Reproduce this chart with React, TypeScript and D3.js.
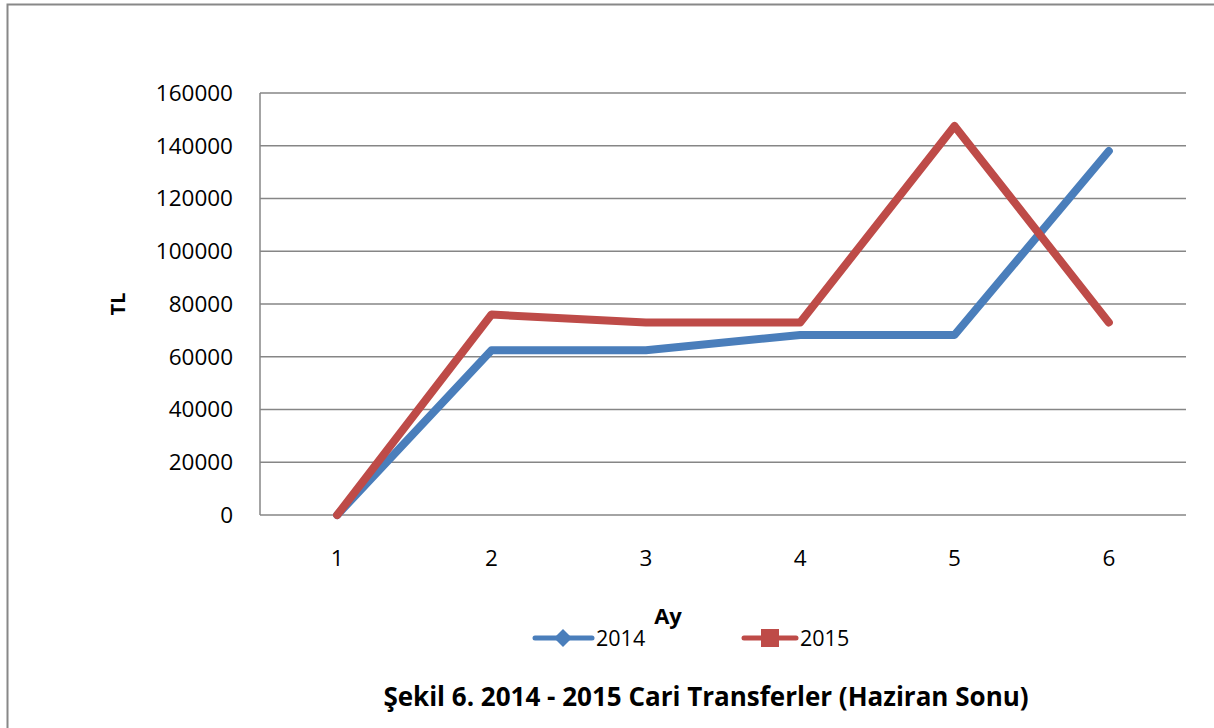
import React from "react";
import * as d3 from "d3";

const categories = ["1", "2", "3", "4", "5", "6"];
const values2014 = [0, 62500, 62500, 68250, 68250, 138000];
const values2015 = [0, 76000, 73000, 73000, 147500, 73000];
const yTicks = [0, 20000, 40000, 60000, 80000, 100000, 120000, 140000, 160000];
const seriesNames = ["2014", "2015"];
const colors = ["#4A7EBB", "#BE4B48"];

const W = 1214;
const H = 728;
const plot = { left: 260, right: 1186, top: 93, bottom: 515 };
const FONT = "'Open Sans', 'Noto Sans', sans-serif";

export default function App() {
  const x = d3.scaleBand<string>().domain(categories).range([plot.left, plot.right]);
  const y = d3.scaleLinear().domain([0, 160000]).range([plot.bottom, plot.top]);
  const line = d3
    .line<number>()
    .x((_, i) => (x(categories[i]) as number) + x.bandwidth() / 2)
    .y((d) => y(d));
  const series = [values2014, values2015];

  return (
    <svg
      width={W}
      height={H}
      style={{ position: "absolute", left: 0, top: 0, background: "#fff" }}
    >
      <rect x={0} y={0} width={W} height={H} fill="#fff" />
      {/* outer frame */}
      <path d={`M7.5,${H} V4.5 H${W}`} fill="none" stroke="#888" strokeWidth={2} />
      {/* gridlines */}
      {yTicks.map((t) => (
        <line
          key={t}
          x1={plot.left}
          x2={plot.right}
          y1={y(t)}
          y2={y(t)}
          stroke="#868686"
          strokeWidth={1.5}
        />
      ))}
      {/* y axis line */}
      <line x1={plot.left} x2={plot.left} y1={plot.top} y2={plot.bottom} stroke="#868686" strokeWidth={1.5} />
      {/* y tick labels */}
      {yTicks.map((t) => (
        <text
          key={t}
          x={233}
          y={y(t)}
          dy="0.35em"
          textAnchor="end"
          fontFamily={FONT}
          fontSize={22.5}
          fill="#000"
        >
          {t}
        </text>
      ))}
      {/* x tick labels */}
      {categories.map((c) => (
        <text
          key={c}
          x={(x(c) as number) + x.bandwidth() / 2}
          y={558}
          dy="0.35em"
          textAnchor="middle"
          fontFamily={FONT}
          fontSize={22.5}
          fill="#000"
        >
          {c}
        </text>
      ))}
      {/* lines */}
      {series.map((s, i) => (
        <path
          key={i}
          d={line(s) as string}
          fill="none"
          stroke={colors[i]}
          strokeWidth={8}
          strokeLinejoin="round"
          strokeLinecap="round"
        />
      ))}
      {/* axis titles */}
      <text
        x={0}
        y={0}
        transform="translate(118,304) rotate(-90)"
        dy="0.35em"
        textAnchor="middle"
        fontFamily={FONT}
        fontWeight="bold"
        fontSize={20}
      >
        TL
      </text>
      <text x={668} y={616} dy="0.35em" textAnchor="middle" fontFamily={FONT} fontWeight="bold" fontSize={22}>
        Ay
      </text>
      {/* legend */}
      <g>
        <line x1={535} x2={592} y1={638} y2={638} stroke={colors[0]} strokeWidth={5} strokeLinecap="round" />
        <path d="M563,629 L572,638 L563,647 L554,638 Z" fill={colors[0]} />
        <text x={596} y={638} dy="0.35em" fontFamily={FONT} fontSize={21.5}>
          {seriesNames[0]}
        </text>
        <line x1={744} x2={796} y1={638} y2={638} stroke={colors[1]} strokeWidth={5} strokeLinecap="round" />
        <rect x={761} y={629} width={18} height={18} fill={colors[1]} />
        <text x={800} y={638} dy="0.35em" fontFamily={FONT} fontSize={21.5}>
          {seriesNames[1]}
        </text>
      </g>
      {/* caption */}
      <text x={706} y={697} dy="0.35em" textAnchor="middle" fontFamily={FONT} fontWeight="bold" fontSize={26}>
        Şekil 6. 2014 - 2015 Cari Transferler (Haziran Sonu)
      </text>
    </svg>
  );
}
